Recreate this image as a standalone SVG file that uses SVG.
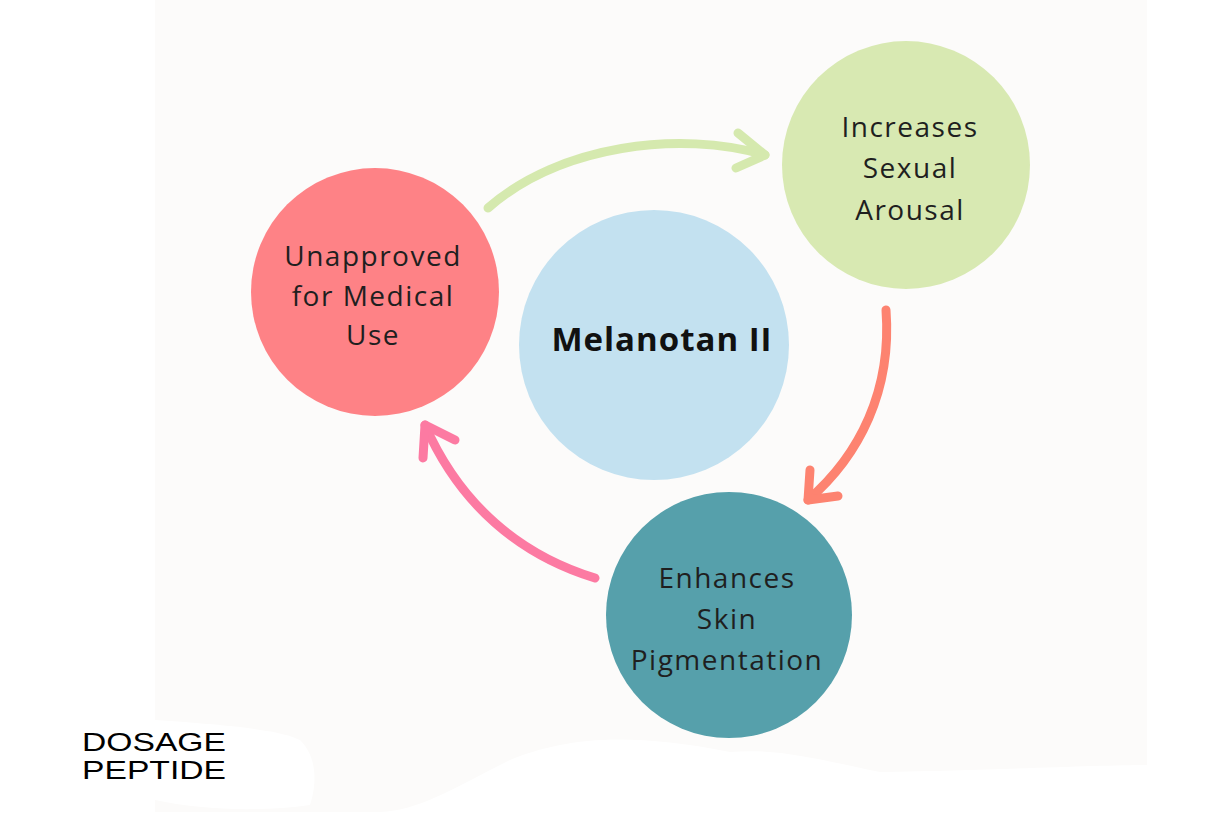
<svg xmlns="http://www.w3.org/2000/svg" width="1220" height="838" viewBox="0 0 1220 838">
<style>
.t{font-family:"Open Sans","Liberation Sans",sans-serif;font-size:28px;fill:#1f1f1f;text-anchor:middle;letter-spacing:1.5px}
.a{fill:none;stroke-width:9;stroke-linecap:round;stroke-linejoin:round}
.logo{font-family:"Liberation Sans",sans-serif;font-size:25px;fill:#000}
</style>
<rect width="1220" height="838" fill="#fff"/>
<path d="M155 0H1147V765C1100 765 1000 770 880 772C820 760 780 748 730 752C620 730 560 740 510 760C450 790 420 810 380 812L155 812Z" fill="#fcfbfa"/>
<path d="M155 720C230 725 280 730 300 740C320 760 315 790 310 805C260 812 200 810 155 800Z" fill="#fff"/>
<g id="connectors">
<g stroke="#d5e9ae" class="a"><path d="M488 208C560 145 680 130 765 155"/><path d="M738 133L765 155L736 168"/></g>
<g stroke="#fd8370" class="a"><path d="M886 310C892 390 860 455 808 500"/><path d="M810 470L808 500L838 496"/></g>
<g stroke="#fc7aa2" class="a"><path d="M595 578C520 555 460 505 425 425"/><path d="M423 458L425 425L455 440"/></g>
</g>
<g id="center"><circle cx="654" cy="345" r="135" fill="#c3e1f0"/><text class="t" x="662" y="351" style="font-weight:bold;font-size:33px;letter-spacing:1px;fill:#111">Melanotan II</text></g>
<g id="unapproved"><circle cx="375" cy="292" r="124" fill="#fe8286"/><text class="t" x="373" y="266">Unapproved</text><text class="t" x="373" y="306">for Medical</text><text class="t" x="373" y="345">Use</text></g>
<g id="arousal"><circle cx="906" cy="165" r="124" fill="#d8e9b2"/><text class="t" x="910" y="137">Increases</text><text class="t" x="910" y="178">Sexual</text><text class="t" x="910" y="220">Arousal</text></g>
<g id="pigment"><circle cx="729" cy="615" r="123" fill="#56a0ab"/><text class="t" x="727" y="588">Enhances</text><text class="t" x="727" y="629">Skin</text><text class="t" x="727" y="670">Pigmentation</text></g>
<g id="logo"><text class="logo" x="82" y="751" textLength="144" lengthAdjust="spacingAndGlyphs">DOSAGE</text><text class="logo" x="82" y="779" textLength="144" lengthAdjust="spacingAndGlyphs">PEPTIDE</text></g>
</svg>
